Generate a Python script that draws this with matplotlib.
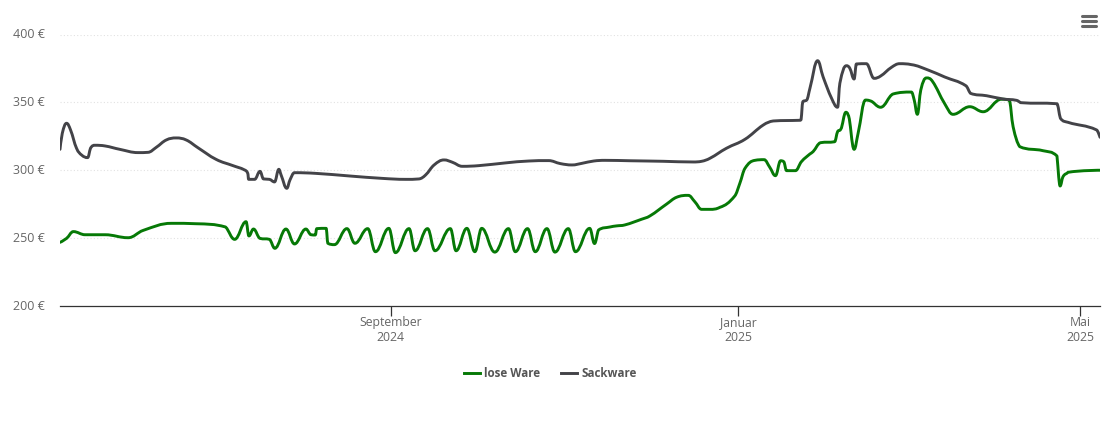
from datetime import date

import matplotlib
matplotlib.use('Agg')
import matplotlib.dates as mdates
import matplotlib.pyplot as plt
from matplotlib.lines import Line2D
from matplotlib.patches import PathPatch
from matplotlib.path import Path
from matplotlib.transforms import ScaledTranslation

plt.rcParams['font.family'] = ['Open Sans', 'DejaVu Sans']

START = date(2024, 5, 8)
END = date(2025, 5, 8)

# days after START, euro per tonne
sack_days = [0, 0.8, 2.3, 3.7, 5.8, 7.6, 9.7, 10.7, 12.3, 15.8, 21, 27.4, 30.9, 33.8, 37.3, 40.8,
             44.3, 48.4, 54.8, 60.7, 64.8, 65.9, 66.2, 68.3, 70.2, 71.4, 73.5, 75.3, 76.8, 77.6,
             79.6, 80.7, 82.3, 89.8, 101.5, 113.2, 121.3, 126, 128.3, 131.3, 134.8, 137.7, 141.2,
             147, 156.3, 164.5, 171.5, 175.6, 179.7, 183.2, 187.3, 191.3, 200, 211.7, 222.2,
             225.2, 228.1, 233.9, 240.4, 246.8, 250.3, 259.6, 260, 260.7, 262.1, 263.2, 265.9,
             267.8, 270.8, 272.9, 273.7, 276, 277.2, 278.7, 279.5, 283, 285.7, 288, 291.8, 294.7,
             298.8, 304.7, 310.5, 317.9, 319.5, 325.2, 331, 335.7, 337.1, 349.9, 351.1, 353.8,
             363.8, 365]
sack_prices = [315.4, 327.2, 334.6, 329.7, 316.2, 311.2, 309.3, 316.2, 318.4, 317.9, 315.4, 313,
               313.2, 316.9, 322.3, 323.8, 322.3, 316.6, 308, 303.4, 300.2, 297.7, 293.3, 293.3,
               299.2, 293.6, 293.3, 291.4, 300.7, 296.5, 286.7, 292.8, 298.2, 297.7, 295.8, 294,
               293.3, 293.6, 296.5, 303.9, 307.6, 305.9, 302.9, 303.4, 305.4, 306.8, 307.1, 304.9,
               303.9, 305.1, 306.8, 307.3, 307, 306.6, 306.1, 306.6, 308.8, 316.2, 322.8, 333.3,
               336.3, 336.8, 337, 350.5, 351.8, 360.4, 380.7, 368.9, 353, 346.4, 364.1, 377,
               375.1, 367.2, 378.3, 378.5, 367.7, 369.4, 375.8, 378.5, 377.8, 373.8, 368.7, 362.3,
               356.7, 354.9, 352.5, 351.5, 349.8, 349, 338.3, 335.3, 329.7, 324.3]

loose_days = [0, 2.3, 4.7, 8.8, 15.8, 23.9, 29.2, 39.1, 47.8, 58.1, 61.3, 65.3, 66.3, 67.9, 70.2,
              73.5, 75.4, 79.3, 82.3, 86.3, 88.1, 89.6, 90.1, 93.4, 94, 96.3, 100.7, 103.5, 108,
              110.7, 115.4, 117.7, 122.5, 124.6, 129, 131.6, 137, 139, 142.8, 145.6, 148, 152.6,
              157.4, 159.8, 164.1, 166.8, 170.9, 173.7, 178.4, 180.9, 185.9, 187.6, 189, 193,
              195.3, 198.2, 204.1, 207, 212.9, 216.4, 220.5, 222.8, 225.2, 228.1, 231.6, 236.8,
              238.6, 240.4, 243.9, 247.1, 249.1, 251.1, 252.9, 254, 255, 258.1, 260.2, 263.2,
              264.3, 266.9, 271.9, 272.9, 274, 275.8, 276.6, 278.7, 280.1, 282.7, 284.2, 288,
              292.4, 298.8, 299.8, 300.9, 302.1, 304.1, 306.2, 310.5, 313.4, 319.3, 324,
              330.4, 333.1, 334.5, 336.8, 345, 349.9, 350.5, 351, 352, 353.8, 365]
loose_prices = [246.9, 249.8, 254.8, 252.5, 252.5, 250.3, 255.7, 260.9, 260.6, 258.2, 249.1, 262.1,
                251.6, 256.7, 249.8, 249.1, 242.5, 256.7, 245.7, 256.7, 252.5, 252.3, 257, 257.2,
                246.2, 245.2, 257, 246.2, 257, 240, 257.2, 239.3, 257, 240.7, 257, 240.7, 257,
                240.7, 257.2, 240, 257.2, 239.7, 257, 240, 257, 240, 257, 239.7, 257, 240, 257.2,
                246, 256, 258.2, 259, 259.7, 263.9, 266.3, 275.1, 280.1, 281.5, 276.8, 271.2,
                271.2, 272.7, 281, 290.4, 301.4, 307.3, 307.8, 302.2, 296, 307, 306.3, 299.7,
                299.7, 306.3, 312, 313.7, 320.3, 321, 328.4, 330.2, 342.7, 340.7, 315.4, 327.2,
                351.7, 351.2, 346.4, 356.2, 357.6, 351.7, 341.2, 359.1, 368, 365.5, 349,
                341.2, 346.8, 343.1, 352.3, 351.7, 332.1, 317.4, 314.4, 310.5, 295.2, 288.4, 295.2,
                298.5, 300]

y_ticks = [200, 250, 300, 350, 400]
x_ticks = [date(2024, 9, 1), date(2025, 1, 1), date(2025, 5, 1)]
x_labels = ['September\n2024', 'Januar\n2025', 'Mai\n2025']

GREEN = '#067906'
GRAY = '#434348'


def spline_path(days, prices):
    # same control point rule as a highcharts spline
    x0 = mdates.date2num(START)
    xs = [x0 + d for d in days]
    ys = list(prices)
    verts = [(xs[0], ys[0])]
    codes = [Path.MOVETO]
    last_right = (xs[0], ys[0])
    for i in range(1, len(xs)):
        x, y = xs[i], ys[i]
        if i == len(xs) - 1:
            left = (x, y)
            right = (x, y)
        else:
            lx, ly = xs[i - 1], ys[i - 1]
            nx, ny = xs[i + 1], ys[i + 1]
            left_x = (1.5 * x + lx) / 2.5
            left_y = (1.5 * y + ly) / 2.5
            right_x = (1.5 * x + nx) / 2.5
            right_y = (1.5 * y + ny) / 2.5
            corr = (right_y - left_y) * (right_x - x) / (right_x - left_x) + y - right_y
            left_y += corr
            right_y += corr
            if left_y > ly and left_y > y:
                left_y = max(ly, y)
                right_y = 2 * y - left_y
            elif left_y < ly and left_y < y:
                left_y = min(ly, y)
                right_y = 2 * y - left_y
            if right_y > ny and right_y > y:
                right_y = max(ny, y)
                left_y = 2 * y - right_y
            elif right_y < ny and right_y < y:
                right_y = min(ny, y)
                left_y = 2 * y - right_y
            left = (left_x, left_y)
            right = (right_x, right_y)
        verts += [last_right, left, (x, y)]
        codes += [Path.CURVE4, Path.CURVE4, Path.CURVE4]
        last_right = right
    return Path(verts, codes)


W, H = 1110, 423
fig = plt.figure(figsize=(W / 100, H / 100), dpi=100)
ax = fig.add_axes([60 / W, 1 - 306 / H, 1040 / W, (306 - 34.5) / H])

ax.set_xlim(mdates.date2num(START), mdates.date2num(END))
ax.set_ylim(200, 400)

for v in y_ticks[1:]:
    ax.axhline(v, color='#e2e2e2', lw=0.8, ls=(0, (1, 2)), zorder=1)

ax.add_patch(PathPatch(spline_path(loose_days, loose_prices), fill=False, ec=GREEN, lw=2.1,
                       joinstyle='round', capstyle='round', zorder=3))
ax.add_patch(PathPatch(spline_path(sack_days, sack_prices), fill=False, ec=GRAY, lw=2.1,
                       joinstyle='round', capstyle='round', zorder=4))

for side in ['top', 'right', 'left']:
    ax.spines[side].set_visible(False)
ax.spines['bottom'].set_color('#333333')
ax.spines['bottom'].set_linewidth(0.9)

ax.set_yticks(y_ticks)
ax.set_yticklabels([f'{v} €' for v in y_ticks], color='#666666', fontsize=9)
ax.tick_params(axis='y', length=0, pad=11)
for label in ax.get_yticklabels():
    label.set_transform(label.get_transform() + ScaledTranslation(0, 1.5 / 100, fig.dpi_scale_trans))
ax.set_xticks([mdates.date2num(d) for d in x_ticks])
ax.set_xticklabels(x_labels, color='#666666', fontsize=8.8, linespacing=1.2)
ax.tick_params(axis='x', length=7.2, width=0.9, color='#333333', pad=0.2)

# legend
legend_y = 1 - 373 / H
for x1, x2, c, label, tx in [(464, 480, GREEN, 'lose Ware', 484), (561, 577, GRAY, 'Sackware', 581)]:
    fig.add_artist(Line2D([x1 / W, x2 / W], [legend_y, legend_y], color=c, lw=2.1))
    fig.text(tx / W, legend_y, label, color='#555555', fontsize=8.4, fontweight='bold',
             ha='left', va='center')

# menu icon
for py in [16, 21, 26]:
    fig.add_artist(Line2D([1082 / W, 1096 / W], [1 - py / H, 1 - py / H], color='#666666', lw=2.2,
                          solid_capstyle='round'))

fig.savefig('out.png', dpi=100)
